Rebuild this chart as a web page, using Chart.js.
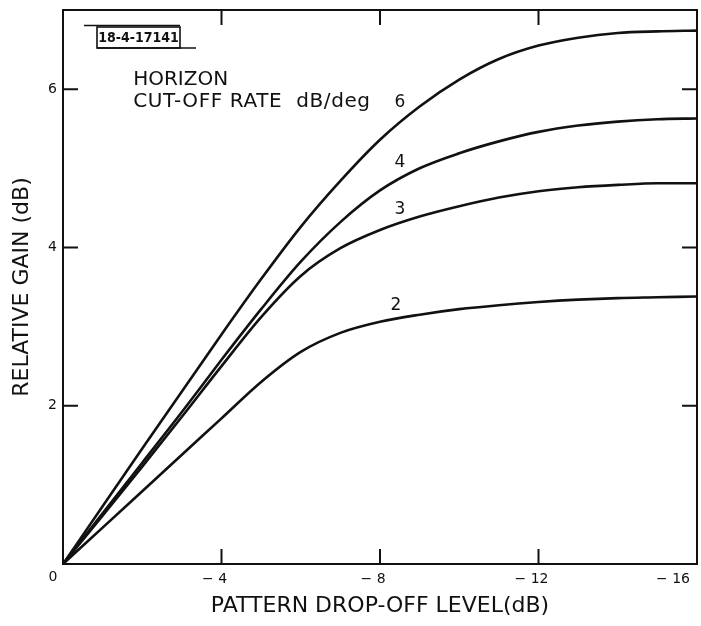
<!DOCTYPE html>
<html><head><meta charset="utf-8">
<script src="https://cdn.jsdelivr.net/npm/chart.js@4/dist/chart.umd.min.js"></script>
<style>html,body{margin:0;padding:0;background:#fff;}#wrap{width:701px;height:626px;}</style>
</head><body><div id="wrap"><canvas id="c" width="701" height="626"></canvas></div>
<script>
// ---- data ----
const dropOff   = [0,-1,-2,-3,-4,-5,-6,-7,-8,-9,-10,-11,-12,-13,-14,-15,-16];
const gainRate6 = [0,0.73,1.46,2.18,2.90,3.60,4.26,4.84,5.36,5.78,6.12,6.38,6.55,6.65,6.71,6.73,6.74];
const gainRate4 = [0,0.64,1.28,1.92,2.58,3.22,3.82,4.32,4.72,5.00,5.19,5.34,5.46,5.54,5.59,5.62,5.63];
const gainRate3 = [0,0.61,1.23,1.86,2.50,3.12,3.64,3.99,4.22,4.39,4.52,4.63,4.71,4.76,4.79,4.81,4.81];
const gainRate2 = [0,0.46,0.92,1.38,1.84,2.30,2.68,2.92,3.06,3.15,3.22,3.27,3.31,3.34,3.36,3.37,3.38];
const rateNames = ['6','4','3','2'];
const rateLabelAt = [[-8.5,5.83],[-8.5,5.07],[-8.5,4.48],[-8.4,3.27]];
const xTickValues = [0,-4,-8,-12,-16];
const xTickLabels = ['0','\u2212 4','\u2212 8','\u2212 12','\u2212 16'];
const yTickValues = [0,2,4,6];
const yTickLabels = ['0','2','4','6'];
const innerXTicks = [-4,-8,-12];
const innerYTicks = [2,4,6];
const noteLines = ['HORIZON','CUT-OFF RATE  dB/deg'];
const figureId = '18-4-17141';

const INK = '#111';
const FONT = '"DejaVu Sans", sans-serif';
const series = [gainRate6, gainRate4, gainRate3, gainRate2];

const decor = {
  id: 'decor',
  afterDraw(chart) {
    const {ctx, chartArea: a, scales: {x, y}} = chart;
    ctx.save();
    ctx.strokeStyle = INK; ctx.fillStyle = INK; ctx.lineWidth = 2;
    // top and right frame
    ctx.beginPath();
    ctx.moveTo(a.left, a.top); ctx.lineTo(a.right, a.top); ctx.lineTo(a.right, a.bottom);
    ctx.stroke();
    // inner ticks
    const TL = 15;
    ctx.beginPath();
    innerXTicks.forEach(v => {
      const px = x.getPixelForValue(v);
      ctx.moveTo(px, a.bottom); ctx.lineTo(px, a.bottom - TL);
      ctx.moveTo(px, a.top); ctx.lineTo(px, a.top + TL);
    });
    innerYTicks.forEach(v => {
      const py = y.getPixelForValue(v);
      ctx.moveTo(a.left, py); ctx.lineTo(a.left + TL, py);
      ctx.moveTo(a.right, py); ctx.lineTo(a.right - TL, py);
    });
    ctx.stroke();
    // shared origin label "0"
    ctx.font = '14px ' + FONT;
    ctx.textAlign = 'center'; ctx.textBaseline = 'middle';
    ctx.fillText(xTickLabels[0], x.getPixelForValue(0) - 10, y.getPixelForValue(0) + 13);
    // curve labels
    ctx.font = '17px ' + FONT;
    rateNames.forEach((t, i) => {
      ctx.fillText(t, x.getPixelForValue(rateLabelAt[i][0]), y.getPixelForValue(rateLabelAt[i][1]));
    });
    // note text
    ctx.textAlign = 'left'; ctx.textBaseline = 'alphabetic';
    ctx.font = '20px ' + FONT;
    ctx.fillText(noteLines[0], x.getPixelForValue(-1.77), y.getPixelForValue(6.05));
    ctx.letterSpacing = '0.6px';
    ctx.fillText(noteLines[1], x.getPixelForValue(-1.77), y.getPixelForValue(5.77));
    ctx.letterSpacing = '0px';
    // figure id box
    const bx = a.left + 34, by = a.top + 17, bw = 83, bh = 21;
    ctx.lineWidth = 1.6;
    ctx.strokeRect(bx, by, bw, bh);
    ctx.beginPath();
    ctx.moveTo(bx - 13, by - 1.5); ctx.lineTo(bx + bw, by - 1.5);
    ctx.moveTo(bx, by + bh); ctx.lineTo(bx + bw + 16, by + bh);
    ctx.stroke();
    ctx.font = 'bold 14px "DejaVu Sans Condensed", "Liberation Sans Narrow", sans-serif';
    ctx.textAlign = 'center'; ctx.textBaseline = 'middle';
    ctx.fillText(figureId, bx + bw / 2, by + bh / 2 + 1);
    ctx.restore();
  }
};

new Chart(document.getElementById('c'), {
  type: 'line',
  data: {
    datasets: series.map((s, i) => ({
      label: rateNames[i],
      data: dropOff.map((d, j) => ({x: d, y: s[j]})),
      borderColor: INK,
      borderWidth: 2.6,
      pointRadius: 0,
      fill: false,
      cubicInterpolationMode: 'monotone'
    }))
  },
  options: {
    responsive: false,
    animation: false,
    devicePixelRatio: 1,
    layout: {padding: {top: 10, right: 4, left: 0, bottom: 0}},
    plugins: {legend: {display: false}, tooltip: {enabled: false}},
    scales: {
      x: {
        type: 'linear', min: -16, max: 0, reverse: true,
        afterBuildTicks: s => { s.ticks = xTickValues.slice().sort((p, q) => p - q).map(v => ({value: v})); },
        afterFit: s => { s.height = 62; s.paddingLeft = 0; s.paddingRight = 0; },
        ticks: {
          callback: v => { const i = xTickValues.indexOf(v); return (i <= 0) ? '' : xTickLabels[i]; },
          font: {family: FONT, size: 14}, color: INK, padding: 7,
          maxRotation: 0, autoSkip: false, labelOffset: -7, align: 'inner'
        },
        grid: {drawOnChartArea: false, drawTicks: false},
        border: {display: true, color: INK, width: 2},
        title: {display: true, text: 'PATTERN DROP-OFF LEVEL(dB)', color: INK,
                font: {family: FONT, size: 22}, padding: {top: 0, bottom: 7}}
      },
      y: {
        type: 'linear', min: 0, max: 7,
        afterBuildTicks: s => { s.ticks = yTickValues.map(v => ({value: v})); },
        afterFit: s => { s.width = 63; s.paddingTop = 0; s.paddingBottom = 0; },
        ticks: {
          callback: v => { const i = yTickValues.indexOf(v); return (i <= 0) ? '' : yTickLabels[i]; },
          font: {family: FONT, size: 14}, color: INK, padding: 6, autoSkip: false
        },
        grid: {drawOnChartArea: false, drawTicks: false},
        border: {display: true, color: INK, width: 2},
        title: {display: true, text: 'RELATIVE GAIN (dB)', color: INK,
                font: {family: FONT, size: 22}, padding: {top: 9, bottom: 0}}
      }
    }
  },
  plugins: [decor]
});
</script></body></html>
